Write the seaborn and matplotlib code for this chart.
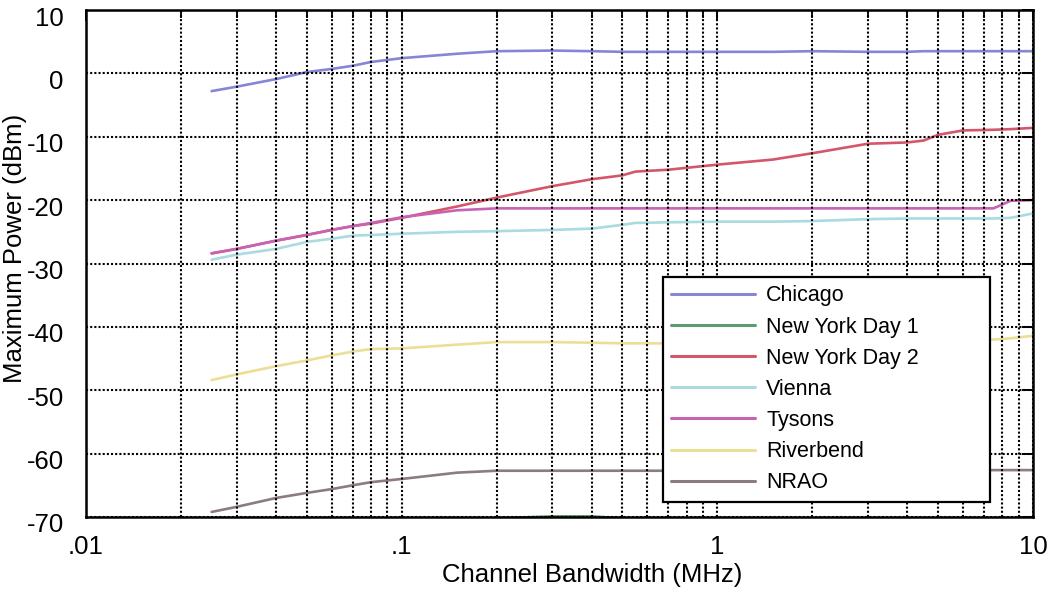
import numpy as np
import pandas as pd
import matplotlib
matplotlib.use("Agg")
import matplotlib.pyplot as plt
import matplotlib.transforms as mtransforms
from matplotlib.lines import Line2D
import seaborn as sns

# ---------------- data ----------------
bandwidth_mhz = [0.025, 0.03, 0.04, 0.05, 0.06, 0.07, 0.08, 0.1, 0.15, 0.2, 0.3, 0.4,
                 0.5, 0.55, 0.7, 1.0, 1.5, 2.0, 3.0, 4.0, 4.5, 5.0, 6.0, 7.5, 8.5, 10.0]

chicago = [-2.8, -2.1, -0.9, 0.2, 0.7, 1.2, 1.8, 2.4, 3.1, 3.5, 3.6, 3.5,
           3.4, 3.4, 3.4, 3.4, 3.4, 3.5, 3.4, 3.4, 3.5, 3.5, 3.5, 3.5, 3.5, 3.5]
new_york_day1 = [-70.3, -70.3, -70.3, -70.3, -70.3, -70.3, -70.3, -70.3, -70.3, -70.2, -69.9, -69.9,
                 -70.2, -70.3, -70.3, -70.3, -70.3, -70.3, -70.3, -70.3, -70.3, -70.3, -70.3, -70.3, -70.3, -70.3]
new_york_day2 = [-28.4, -27.7, -26.4, -25.5, -24.7, -24.1, -23.7, -22.8, -21.0, -19.6, -17.8, -16.7,
                 -16.1, -15.5, -15.2, -14.4, -13.6, -12.6, -11.1, -10.9, -10.6, -9.7, -9.0, -8.9, -8.8, -8.6]
vienna = [-29.4, -28.6, -27.7, -26.6, -26.1, -25.6, -25.5, -25.3, -25.0, -24.9, -24.7, -24.5,
          -23.9, -23.6, -23.5, -23.4, -23.4, -23.3, -23.0, -22.9, -22.9, -22.9, -22.9, -22.9, -22.8, -22.1]
tysons = [-28.4, -27.7, -26.4, -25.5, -24.7, -24.1, -23.6, -22.7, -21.6, -21.3, -21.3, -21.3,
          -21.3, -21.3, -21.3, -21.3, -21.3, -21.3, -21.3, -21.3, -21.3, -21.3, -21.3, -21.3, -20.1, -20.0]
riverbend = [-48.4, -47.5, -46.2, -45.3, -44.5, -43.9, -43.5, -43.4, -42.8, -42.4, -42.4, -42.5,
             -42.6, -42.6, -42.6, -42.6, -42.6, -42.5, -42.4, -42.3, -42.3, -42.2, -42.1, -42.0, -41.8, -41.4]
nrao = [-69.2, -68.4, -67.0, -66.2, -65.6, -65.0, -64.5, -64.0, -63.0, -62.7, -62.7, -62.7,
        -62.7, -62.7, -62.7, -62.7, -62.7, -62.7, -62.7, -62.7, -62.7, -62.7, -62.7, -62.6, -62.6, -62.6]

sites = ["Chicago", "New York Day 1", "New York Day 2", "Vienna", "Tysons", "Riverbend", "NRAO"]
series = [chicago, new_york_day1, new_york_day2, vienna, tysons, riverbend, nrao]
colors = ["#8686d6", "#5f9a6e", "#d4566a", "#a9dbe0", "#c862b4", "#ebdf96", "#8c7a84"]

x_ticks = [0.01, 0.1, 1, 10]
x_tick_labels = [".01", ".1", "1", "10"]
y_ticks = [10, 0, -10, -20, -30, -40, -50, -60, -70]
y_tick_labels = ["10", "0", "-10", "-20", "-30", "-40", "-50", "-60", "-70"]

df = pd.concat(
    [pd.DataFrame({"bw": bandwidth_mhz, "power": vals, "site": name}) for name, vals in zip(sites, series)],
    ignore_index=True,
)
palette = dict(zip(sites, colors))

# ---------------- style ----------------
sns.set_style("white")
plt.rcParams["font.family"] = ["Liberation Sans", "DejaVu Sans"]
plt.rcParams["axes.unicode_minus"] = False
plt.rcParams["text.color"] = "black"

fig = plt.figure(figsize=(10.5, 5.91), dpi=100)
ax = fig.add_axes([86 / 1050, 1 - 517 / 591, (1033 - 86) / 1050, (517 - 10) / 591])

sns.lineplot(data=df, x="bw", y="power", hue="site", hue_order=sites, palette=palette,
             estimator=None, sort=False, linewidth=1.9, legend=False, ax=ax)

ax.set_xscale("log")
ax.set_xlim(0.01, 10)
ax.set_ylim(-70, 10)
ax.set_xticks(x_ticks)
ax.set_xticklabels(x_tick_labels)
ax.xaxis.set_minor_locator(matplotlib.ticker.LogLocator(base=10, subs=np.arange(2, 10)))
ax.xaxis.set_minor_formatter(matplotlib.ticker.NullFormatter())
ax.set_yticks(y_ticks)
ax.set_yticklabels(y_tick_labels)

grid_kw = dict(color="black", linestyle=(0, (1, 1)), linewidth=1.5)
ax.grid(True, which="major", axis="both", **grid_kw)
ax.grid(True, which="minor", axis="x", **grid_kw)
ax.set_axisbelow(False)

for s in ax.spines.values():
    s.set_visible(True)
    s.set_color("black")
    s.set_linewidth(1.8)
    s.set_zorder(5)

ax.tick_params(which="major", direction="in", length=8, width=1.4, top=True, right=True,
               labelsize=18.5, color="black", labelcolor="black")
ax.tick_params(axis="x", which="major", pad=13)
ax.tick_params(axis="y", which="major", pad=16)
ax.tick_params(which="minor", direction="in", length=6, width=1.3, top=True, right=True, color="black")

# y tick labels sit slightly below their grid lines in the reference
offset = mtransforms.ScaledTranslation(0, -6 / 100, fig.dpi_scale_trans)
for lab in ax.get_yticklabels():
    lab.set_transform(lab.get_transform() + offset)

ax.set_xlabel("Channel Bandwidth (MHz)", fontsize=18.5, color="black")
ax.set_ylabel("Maximum Power (dBm)", fontsize=18.5, color="black")
ax.xaxis.set_label_coords(0.534, -0.09)
ax.yaxis.set_label_coords(-0.062, 0.53)

handles = [Line2D([0], [0], color=c, linewidth=2.2) for c in colors]
leg = ax.legend(handles, sites, loc="lower left", bbox_to_anchor=(0.609, 0.030, 0.346, 0.443),
                mode="expand", fontsize=15.5, frameon=True, fancybox=False, framealpha=1,
                edgecolor="black", handlelength=3.9, handletextpad=0.5, labelspacing=0.47,
                borderpad=0.4, borderaxespad=0, labelcolor="black")
leg.get_frame().set_linewidth(1.6)
leg.set_zorder(10)

fig.savefig("out.png", dpi=100)
